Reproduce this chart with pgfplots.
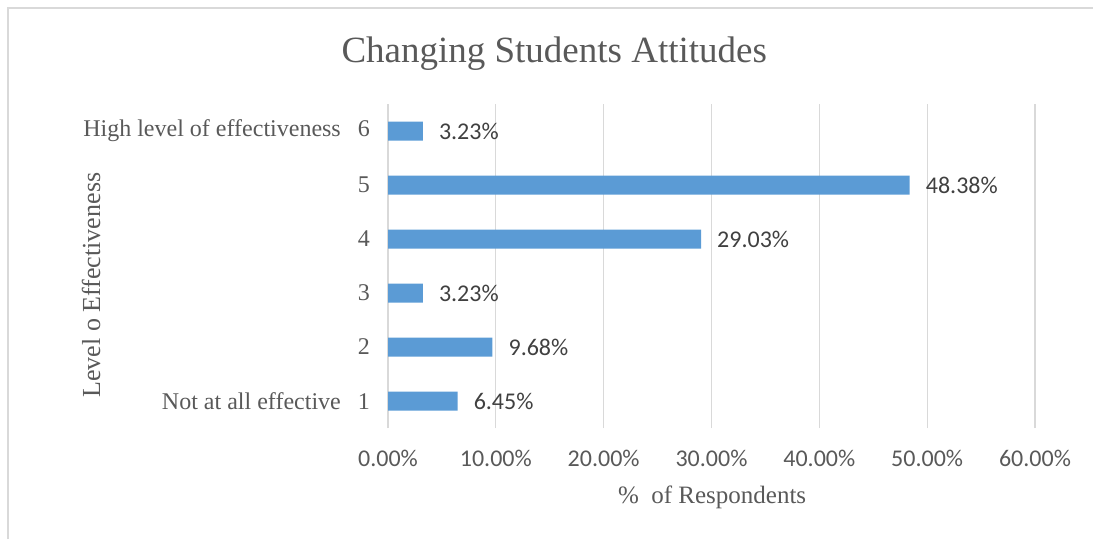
\documentclass[border=0pt]{standalone}
\usepackage{fontspec}
\setmainfont{Liberation Serif}
\newfontfamily\calibri{Carlito}
\usepackage{pgfplots}
\pgfplotsset{compat=1.18}
\definecolor{barblue}{HTML}{5B9BD5}
\definecolor{txtgray}{HTML}{595959}
\definecolor{lblgray}{HTML}{404040}
\definecolor{gridgray}{HTML}{D9D9D9}
\begin{document}
\begin{tikzpicture}
\useasboundingbox (0pt,0pt) rectangle (1093pt,539pt);
\draw[gridgray,line width=1.5pt] (8pt,0pt) -- (8pt,531pt) -- (1093pt,531pt);
\begin{axis}[
  at={(388pt,111pt)}, anchor=south west,
  scale only axis, width=647pt, height=324pt,
  xbar, bar width=19pt,
  xmin=0, xmax=60, ymin=0.5, ymax=6.5,
  xtick={0,10,20,30,40,50,60},
  ytick={1,2,3,4,5,6},
  yticklabels={Not at all effective\hspace{17pt}1,2,3,4,5,High level of effectiveness\hspace{17pt}6},
  /pgf/number format/assume math mode=true,
  xticklabel={\pgfmathprintnumber[fixed,fixed zerofill,precision=2,assume math mode=true]{\tick}\%},
  xticklabel style={font=\calibri\fontsize{24}{28}\selectfont, text=txtgray, inner sep=0pt, anchor=north, yshift=-22pt},
  yticklabel style={font=\fontsize{24}{28}\selectfont, text=txtgray, inner sep=0pt, anchor=east, xshift=-18pt},
  major tick length=0pt,
  axis line style={draw=none},
  xmajorgrids, grid style={gridgray, line width=1.3pt},
  point meta=x,
  nodes near coords={\pgfmathprintnumber[fixed,fixed zerofill,precision=2,assume math mode=true]{\pgfplotspointmeta}\%},
  nodes near coords style={font=\calibri\fontsize{24}{28}\selectfont, text=lblgray, anchor=west, inner sep=0pt, xshift=16pt},
  title={Changing Students Attitudes},
  title style={font=\fontsize{37}{44}\selectfont, text=txtgray, at={(axis description cs:0.257,1.137)}, anchor=center},
  xlabel={\%\ \ of Respondents},
  xlabel style={font=\fontsize{25}{30}\selectfont, text=txtgray, at={(axis description cs:0.501,-0.213)}, anchor=center},
  ylabel={Level o Effectiveness},
  ylabel style={font=\fontsize{26}{31}\selectfont, text=txtgray, at={(axis description cs:-0.459,0.441)}, anchor=center},
  clip=false,
]
\addplot[fill=barblue, draw=none] coordinates {(6.45,1) (9.68,2) (3.23,3) (29.03,4) (48.38,5) (3.23,6)};
\end{axis}
\end{tikzpicture}
\end{document}
